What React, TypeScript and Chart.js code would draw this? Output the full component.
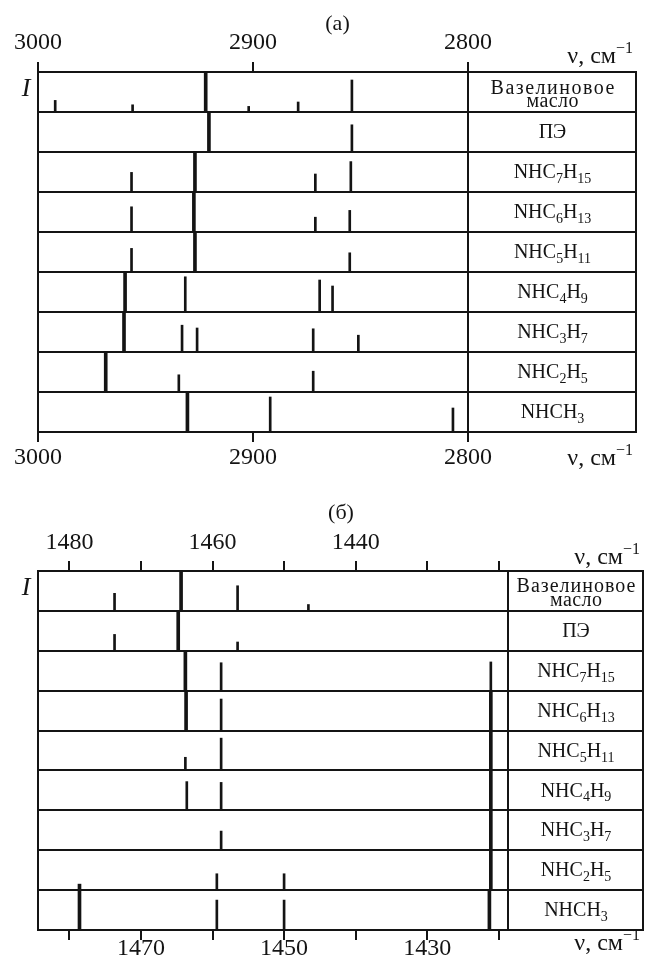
import React, { useEffect, useRef } from 'react';
import { Chart, registerables } from 'chart.js';

Chart.register(...registerables);

const FONT = '"Liberation Serif", "Times New Roman", serif';
const INK = '#141414';

// ---------- text ----------
const ROW_LABELS = ['Вазелиновое\nмасло', 'ПЭ', 'NHC₇H₁₅', 'NHC₆H₁₃', 'NHC₅H₁₁', 'NHC₄H₉', 'NHC₃H₇', 'NHC₂H₅', 'NHCH₃'];
const AXIS_UNIT = 'ν, см⁻¹';
const TITLE_A = '(а)';
const TITLE_B = '(б)';
const INTENSITY_LABEL = 'I';

// ---------- panel (а): 3000–2800 cm⁻¹, [wavenumber, relative intensity] ----------
const A_VASELINE = [[2992, 0.29], [2956, 0.18], [2922, 1], [2902, 0.14], [2879, 0.25], [2854, 0.8]];
const A_PE = [[2920.5, 1], [2854, 0.68]];
const A_C7 = [[2956.5, 0.49], [2927, 1], [2871, 0.45], [2854.5, 0.76]];
const A_C6 = [[2956.5, 0.63], [2927.5, 1], [2871, 0.37], [2855, 0.54]];
const A_C5 = [[2956.5, 0.59], [2927, 1], [2855, 0.48]];
const A_C4 = [[2959.5, 1], [2931.5, 0.88], [2869, 0.8], [2863, 0.65]];
const A_C3 = [[2960, 1], [2933, 0.67], [2926, 0.6], [2872, 0.58], [2851, 0.42]];
const A_C2 = [[2968.5, 1], [2934.5, 0.43], [2872, 0.52]];
const A_C1 = [[2930.5, 1], [2892, 0.875], [2807, 0.6]];
const A_ROWS = [A_VASELINE, A_PE, A_C7, A_C6, A_C5, A_C4, A_C3, A_C2, A_C1];
const A_TICKS = [3000, 2900, 2800];
const A_TOP_LABELS = [3000, 2900, 2800];
const A_BOTTOM_LABELS = [3000, 2900, 2800];
const A_MIN = 2800;
const A_MAX = 3000;

// ---------- panel (б): 1484–1419 cm⁻¹ ----------
const B_VASELINE = [[1473.7, 0.44], [1464.4, 1], [1456.5, 0.63], [1446.6, 0.16]];
const B_PE = [[1473.7, 0.41], [1464.8, 1], [1456.5, 0.22]];
const B_C7 = [[1463.8, 1], [1458.8, 0.7], [1421.1, 0.72]];
const B_C6 = [[1463.7, 1], [1458.8, 0.79], [1421.1, 1]];
const B_C5 = [[1463.8, 0.33], [1458.8, 0.81], [1421.1, 1]];
const B_C4 = [[1463.6, 0.72], [1458.8, 0.7], [1421.1, 1]];
const B_C3 = [[1458.8, 0.48], [1421.1, 1]];
const B_C2 = [[1459.4, 0.41], [1450.0, 0.41], [1421.1, 1]];
const B_C1 = [[1478.6, 1.15], [1459.4, 0.75], [1450.0, 0.75], [1421.3, 1]];
const B_ROWS = [B_VASELINE, B_PE, B_C7, B_C6, B_C5, B_C4, B_C3, B_C2, B_C1];
const B_TICKS = [1480, 1470, 1460, 1450, 1440, 1430, 1420];
const B_TOP_LABELS = [1480, 1460, 1440];
const B_BOTTOM_LABELS = [1470, 1450, 1430];
const B_MIN = 1418.7;
const B_MAX = 1484.4;

const NROWS = ROW_LABELS.length;

// ---------- rich text (sub/superscripts) ----------
function drawRich(ctx: any, text: string, x0: number, baseline: number, size: number, align: string, spacing = 0) {
  const segs: { kind: string; t: string; w?: number }[] = [];
  for (const ch of text) {
    const code = ch.codePointAt(0) as number;
    let kind = 'n';
    let c = ch;
    if (code >= 0x2080 && code <= 0x2089) { kind = 'sub'; c = String(code - 0x2080); }
    else if (ch === '⁻') { kind = 'sup'; c = '−'; }
    else if (ch === '¹') { kind = 'sup'; c = '1'; }
    const last = segs[segs.length - 1];
    if (last && last.kind === kind) last.t += c; else segs.push({ kind, t: c });
  }
  const small = Math.round(size * 0.68);
  const fontFor = (k: string) => `${k === 'n' ? size : small}px ${FONT}`;
  ctx.letterSpacing = `${spacing}px`;
  let total = 0;
  segs.forEach((s) => { ctx.font = fontFor(s.kind); s.w = ctx.measureText(s.t).width; total += s.w as number; });
  total -= spacing;
  let x = align === 'center' ? x0 - total / 2 : align === 'right' ? x0 - total : x0;
  ctx.textAlign = 'left';
  ctx.textBaseline = 'alphabetic';
  segs.forEach((s) => {
    ctx.font = fontFor(s.kind);
    const dy = s.kind === 'sub' ? size * 0.24 : s.kind === 'sup' ? -size * 0.42 : 0;
    ctx.fillText(s.t, x, baseline + dy);
    x += s.w as number;
  });
  ctx.letterSpacing = '0px';
}

const decorPlugin = {
  id: 'panelDecor',
  afterDraw(chart: any, _args: any, opts: any) {
    const { ctx, chartArea } = chart;
    const yS = chart.scales.y;
    ctx.save();
    ctx.strokeStyle = INK;
    ctx.lineWidth = 2;
    ctx.beginPath();
    ctx.moveTo(chartArea.left, chartArea.top - 1);
    ctx.lineTo(chartArea.left, chartArea.bottom + 1);
    ctx.moveTo(yS.right - 1, chartArea.top - 1);
    ctx.lineTo(yS.right - 1, chartArea.bottom + 1);
    ctx.stroke();
    ctx.fillStyle = INK;
    const cx = (chartArea.right + yS.right) / 2;
    ROW_LABELS.forEach((lab, i) => {
      const yTop = yS.getPixelForValue(NROWS - i);
      const yBot = yS.getPixelForValue(NROWS - 1 - i);
      const mid = (yTop + yBot) / 2;
      const lines = lab.split('\n');
      if (lines.length === 1) {
        drawRich(ctx, lab, cx, mid + 6.2, 20, 'center');
      } else {
        drawRich(ctx, lines[0], cx, mid + 1.5, 20, 'center', opts.wideSpacing);
        drawRich(ctx, lines[1], cx, mid + 15, 20, 'center', 0.4);
      }
    });
    ctx.font = `italic 26px ${FONT}`;
    ctx.textAlign = 'center';
    ctx.textBaseline = 'alphabetic';
    ctx.fillText(INTENSITY_LABEL, chartArea.left - 12, chartArea.top + 24);
    drawRich(ctx, AXIS_UNIT, yS.right - 4, chartArea.top + opts.unitTop, 24, 'right');
    drawRich(ctx, AXIS_UNIT, yS.right - 4, chartArea.bottom + opts.unitBottom, 24, 'right');
    ctx.restore();
  },
};

function xAxis(position: string, min: number, max: number, ticks: number[], labels: number[], height: number, pad: number) {
  return {
    type: 'linear',
    position,
    reverse: true,
    min,
    max,
    offset: false,
    afterBuildTicks: (s: any) => { s.ticks = ticks.map((v) => ({ value: v })); },
    afterFit: (s: any) => { s.height = height; },
    ticks: {
      autoSkip: false,
      maxRotation: 0,
      minRotation: 0,
      padding: pad,
      color: INK,
      font: { family: FONT, size: 24 },
      callback: (v: any) => (labels.includes(Number(v)) ? String(v) : ''),
    },
    grid: { offset: false, drawOnChartArea: false, drawTicks: true, tickLength: 10, tickWidth: 2, tickColor: INK, color: INK, lineWidth: 2 },
    border: { display: true, color: INK, width: 2 },
  };
}

function buildConfig(p: any) {
  const thin: any[] = [];
  const thick: any[] = [];
  p.rows.forEach((peaks: number[][], i: number) => {
    const base = NROWS - 1 - i;
    peaks.forEach(([nu, h]) => {
      const d = { x: nu, y: [base, base + h] };
      (h >= 1 ? thick : thin).push(d);
    });
  });
  return {
    type: 'bar',
    data: {
      datasets: [
        { label: 'weak', data: thin, backgroundColor: INK, barThickness: 2, grouped: false, borderWidth: 0 },
        { label: 'strong', data: thick, backgroundColor: INK, barThickness: 3, grouped: false, borderWidth: 0 },
      ],
    },
    options: {
      animation: false,
      responsive: false,
      maintainAspectRatio: false,
      devicePixelRatio: 1,
      layout: { padding: { left: 38, right: p.padRight, top: 0, bottom: 0 } },
      plugins: {
        legend: { display: false },
        tooltip: { enabled: false },
        title: {
          display: true,
          text: p.title,
          color: INK,
          font: { family: FONT, size: 22, weight: 'normal', lineHeight: 0.6 },
          padding: { top: p.titlePadTop, bottom: 0 },
        },
        panelDecor: { unitTop: p.unitTop, unitBottom: p.unitBottom, wideSpacing: p.wideSpacing },
      },
      scales: {
        x: xAxis('bottom', p.min, p.max, p.ticks, p.bottomLabels, p.bottomH, p.bottomPad),
        xTop: xAxis('top', p.min, p.max, p.ticks, p.topLabels, p.topH, p.topPad),
        y: {
          type: 'linear',
          position: 'right',
          min: 0,
          max: NROWS,
          afterBuildTicks: (s: any) => { s.ticks = Array.from({ length: NROWS + 1 }, (_, k) => ({ value: k })); },
          afterFit: (s: any) => { s.width = p.colW; },
          ticks: { display: false },
          grid: { color: INK, lineWidth: 2, tickLength: p.colW, tickColor: INK, tickWidth: 2, drawTicks: true },
          border: { display: true, color: INK, width: 2 },
        },
      },
    },
    plugins: [decorPlugin],
  };
}

// title box = titlePadTop + 13.2; topH fills the rest down to the plot top
const PANEL_A = {
  rows: A_ROWS, ticks: A_TICKS, topLabels: A_TOP_LABELS, bottomLabels: A_BOTTOM_LABELS,
  min: A_MIN, max: A_MAX, title: TITLE_A,
  padRight: 8, colW: 169, titlePadTop: 17.4, topH: 41.4, bottomH: 53, topPad: 5, bottomPad: 1,
  unitTop: -9, unitBottom: 33, wideSpacing: 1.5,
};

const PANEL_B = {
  rows: B_ROWS, ticks: B_TICKS, topLabels: B_TOP_LABELS, bottomLabels: B_BOTTOM_LABELS,
  min: B_MIN, max: B_MAX, title: TITLE_B,
  padRight: 1, colW: 136, titlePadTop: 21.4, topH: 51.4, bottomH: 41, topPad: 4, bottomPad: -6,
  unitTop: -7, unitBottom: 20, wideSpacing: 1.0,
};

function Panel({ spec, top, height }: { spec: any; top: number; height: number }) {
  const ref = useRef<HTMLCanvasElement | null>(null);
  useEffect(() => {
    const chart = new Chart(ref.current as HTMLCanvasElement, buildConfig(spec) as any);
    return () => chart.destroy();
  }, [spec]);
  return (
    <canvas
      ref={ref}
      width={645}
      height={height}
      style={{ position: 'absolute', left: 0, top, width: 645, height, display: 'block' }}
    />
  );
}

export default function App() {
  return (
    <div style={{ position: 'absolute', left: 0, top: 0, width: 645, height: 971, background: '#fff' }}>
      <Panel spec={PANEL_A} top={0} height={485} />
      <Panel spec={PANEL_B} top={485} height={486} />
    </div>
  );
}
